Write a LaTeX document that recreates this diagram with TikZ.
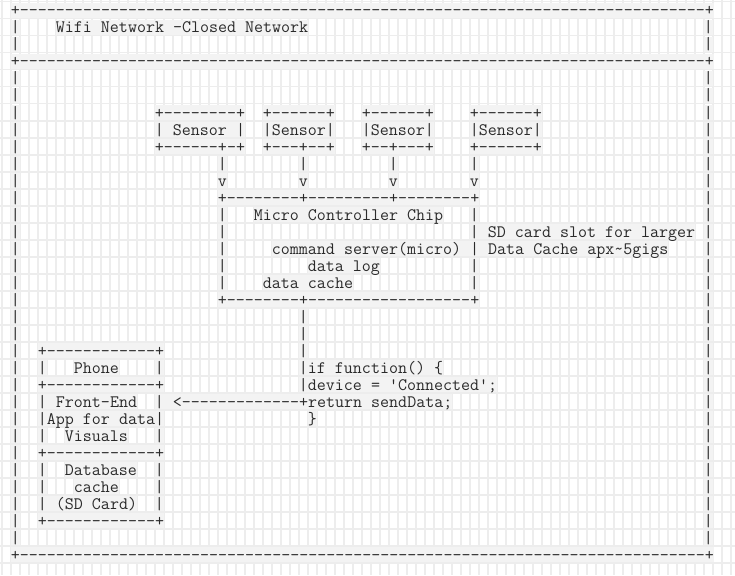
\documentclass[tikz,border=0pt]{standalone}
\usepackage{fontspec}
\definecolor{gridcol}{HTML}{EDEDED}
\definecolor{shadecol}{HTML}{F3F3F3}
\definecolor{inkcol}{HTML}{2A2A2A}
\ExplSyntaxOn
\cs_new:Npn \myrep #1#2 { \prg_replicate:nn {#1} {#2} }
\ExplSyntaxOff
\newcommand\Tx[3]{\node[txt] (n-#1-#2) at ({(1.7+9*#1)*1pt},{-(16+17*#2)*1pt}) {#3};}
\begin{document}
\begin{tikzpicture}[
  txt/.style={anchor=base west, inner sep=0pt, fill=shadecol, text height=12.6pt,
    text depth=1.8pt, font=\ttfamily\fontsize{17.5}{17}\selectfont, text=inkcol},
  gridline/.style={draw=gridcol, line width=1.6pt}]
\fill[white] (0pt,0pt) rectangle (735pt,-575pt);
\useasboundingbox (0pt,0pt) rectangle (735pt,-575pt);
\foreach \k in {0,...,81} \draw[gridline] ({(1.7+9*\k)*1pt},0pt) -- ({(1.7+9*\k)*1pt},-575pt);
\foreach \k in {0,...,33} \draw[gridline] (0pt,{-(1.7+17*\k)*1pt}) -- (735pt,{-(1.7+17*\k)*1pt});
% outer frame
\Tx{1}{0}{+\myrep{76}{-}+}
\Tx{6}{1}{Wifi Network -Closed Network}
\Tx{1}{3}{+\myrep{76}{-}+}
\foreach \r in {1,2,4,5,...,31} {\Tx{1}{\r}{|}\Tx{78}{\r}{|}}
\Tx{1}{32}{+\myrep{76}{-}+}
% sensors
\Tx{17}{6}{+\myrep{8}{-}+}
\Tx{29}{6}{+\myrep{6}{-}+}
\Tx{40}{6}{+\myrep{6}{-}+}
\Tx{52}{6}{+\myrep{6}{-}+}
\Tx{17}{7}{| Sensor |}
\Tx{29}{7}{|Sensor|}
\Tx{40}{7}{|Sensor|}
\Tx{52}{7}{|Sensor|}
\Tx{17}{8}{+\myrep{6}{-}+-+}
\Tx{29}{8}{+\myrep{3}{-}+\myrep{2}{-}+}
\Tx{40}{8}{+\myrep{2}{-}+\myrep{3}{-}+}
\Tx{52}{8}{+\myrep{6}{-}+}
\Tx{24}{9}{|}\Tx{33}{9}{|}\Tx{43}{9}{|}\Tx{52}{9}{|}
\Tx{24}{10}{v}\Tx{33}{10}{v}\Tx{43}{10}{v}\Tx{52}{10}{v}
% micro controller
\Tx{24}{11}{+\myrep{8}{-}+\myrep{9}{-}+\myrep{8}{-}+}
\Tx{24}{12}{|}\Tx{28}{12}{Micro Controller Chip}\Tx{52}{12}{|}
\Tx{24}{13}{|}\Tx{52}{13}{| SD card slot for larger}
\Tx{24}{14}{|}\Tx{30}{14}{command server(micro) | Data Cache apx\textasciitilde 5gigs}
\Tx{24}{15}{|}\Tx{34}{15}{data log}\Tx{52}{15}{|}
\Tx{24}{16}{|}\Tx{29}{16}{data cache}\Tx{52}{16}{|}
\Tx{24}{17}{+\myrep{8}{-}+\myrep{18}{-}+}
\Tx{33}{18}{|}
\Tx{33}{19}{|}
\Tx{33}{20}{|}
\Tx{33}{21}{|if function() \{}
\Tx{33}{22}{|device = 'Connected';}
\Tx{17}{23}{| <\myrep{13}{-}+return sendData;}
\Tx{34}{24}{\}}
% phone
\Tx{4}{20}{+\myrep{12}{-}+}
\Tx{4}{21}{|}\Tx{8}{21}{Phone}\Tx{17}{21}{|}
\Tx{4}{22}{+\myrep{12}{-}+}
\Tx{4}{23}{| Front-End}
\Tx{4}{24}{|App for data|}
\Tx{4}{25}{|}\Tx{7}{25}{Visuals}\Tx{17}{25}{|}
\Tx{4}{26}{+\myrep{12}{-}+}
\Tx{4}{27}{|}\Tx{7}{27}{Database}\Tx{17}{27}{|}
\Tx{4}{28}{|}\Tx{8}{28}{cache}\Tx{17}{28}{|}
\Tx{4}{29}{| (SD Card)}\Tx{17}{29}{|}
\Tx{4}{30}{+\myrep{12}{-}+}
\end{tikzpicture}
\end{document}
